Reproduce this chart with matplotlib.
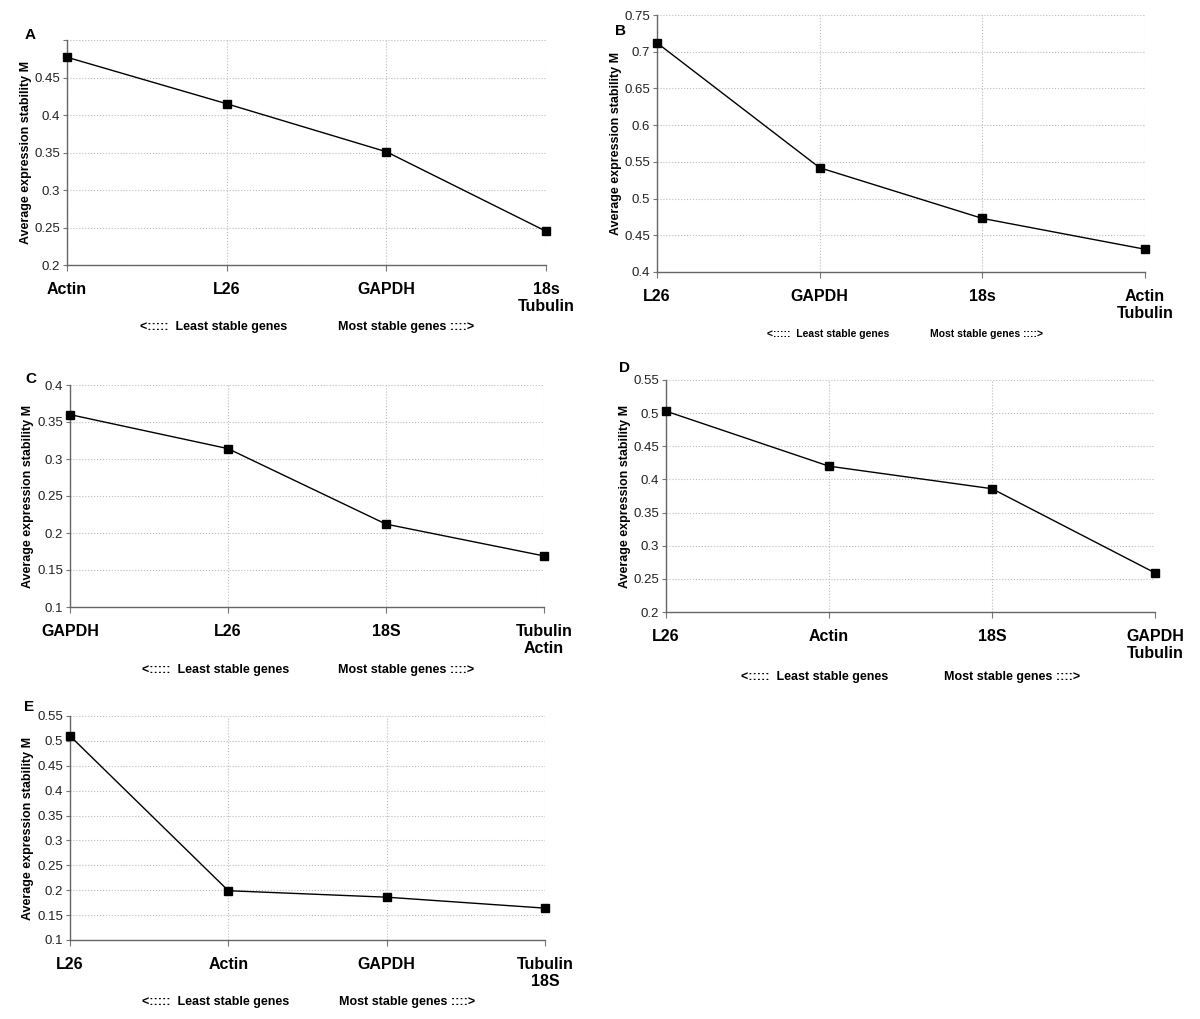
import matplotlib.pyplot as plt

plt.rcParams['font.family'] = ['Liberation Sans', 'DejaVu Sans']

# panel data
genes_a = ['Actin', 'L26', 'GAPDH', '18s\nTubulin']
m_a = [0.477, 0.415, 0.351, 0.245]

genes_b = ['L26', 'GAPDH', '18s', 'Actin\nTubulin']
m_b = [0.712, 0.542, 0.473, 0.431]

genes_c = ['GAPDH', 'L26', '18S', 'Tubulin\nActin']
m_c = [0.360, 0.314, 0.212, 0.169]

genes_d = ['L26', 'Actin', '18S', 'GAPDH\nTubulin']
m_d = [0.503, 0.420, 0.386, 0.259]

genes_e = ['L26', 'Actin', 'GAPDH', 'Tubulin\n18S']
m_e = [0.510, 0.199, 0.186, 0.164]

ylims_a = (0.2, 0.5)
ylims_b = (0.4, 0.75)
ylims_c = (0.1, 0.4)
ylims_d = (0.2, 0.55)
ylims_e = (0.1, 0.55)

W, H = 1200, 1019
fig = plt.figure(figsize=(W / 100, H / 100), dpi=100)


def px_axes(x0, x1, y0, y1):
    # pixel box -> figure fraction
    return fig.add_axes([x0 / W, 1 - y1 / H, (x1 - x0) / W, (y1 - y0) / H])


def panel(box, genes, vals, ylims, letter, letter_xy, bottom_y, left_cx, right_cx, foot_size=9):
    ax = px_axes(*box)
    xs = list(range(len(genes)))
    ax.plot(xs, vals, color='black', lw=1, marker='s', ms=5.5, clip_on=False, zorder=5)
    ax.set_xlim(0, len(genes) - 1)
    ax.set_ylim(*ylims)
    lo, hi = ylims
    ticks = []
    t = lo
    while t <= hi + 1e-9:
        ticks.append(round(t, 2))
        t += 0.05
    ax.set_yticks(ticks)
    labels = ['%g' % v for v in ticks]
    if letter == 'A':
        labels[-1] = ''
    ax.set_yticklabels(labels, fontsize=9.5, color='#222222')
    ax.set_xticks(xs)
    ax.set_xticklabels(genes, fontsize=11.5, fontweight='bold', linespacing=1.2)
    ax.tick_params(axis='x', length=4, pad=8, color='#777777')
    ax.tick_params(axis='y', length=3, pad=2, color='#777777')
    ax.grid(True, color='#bbbbbb', linestyle=':', linewidth=0.8)
    for s in ['top', 'right']:
        ax.spines[s].set_visible(False)
    for s in ['left', 'bottom']:
        ax.spines[s].set_color('#666666')
        ax.spines[s].set_linewidth(1)
    ax.set_ylabel('Average expression stability M', fontsize=9, fontweight='bold', labelpad=2)
    fig.text(letter_xy[0] / W, 1 - letter_xy[1] / H, letter, fontsize=11, fontweight='bold',
             ha='center', va='center')
    fig.text(left_cx / W, 1 - bottom_y / H, '<:::::  Least stable genes', fontsize=foot_size,
             fontweight='bold', ha='center', va='center')
    fig.text(right_cx / W, 1 - bottom_y / H, 'Most stable genes ::::>', fontsize=foot_size,
             fontweight='bold', ha='center', va='center')
    return ax


panel((67, 546, 40, 265), genes_a, m_a, ylims_a, 'A', (30, 35), 327, 214, 406)
panel((657, 1145, 15, 272), genes_b, m_b, ylims_b, 'B', (620, 31), 334, 828, 986, foot_size=7.5)
panel((70, 544, 385, 607), genes_c, m_c, ylims_c, 'C', (31, 379), 670, 216, 406)
panel((666, 1155, 380, 612), genes_d, m_d, ylims_d, 'D', (624, 368), 677, 815, 1012)
panel((70, 545, 716, 940), genes_e, m_e, ylims_e, 'E', (29, 707), 1002, 216, 407)

fig.savefig('out.png', dpi=100)
